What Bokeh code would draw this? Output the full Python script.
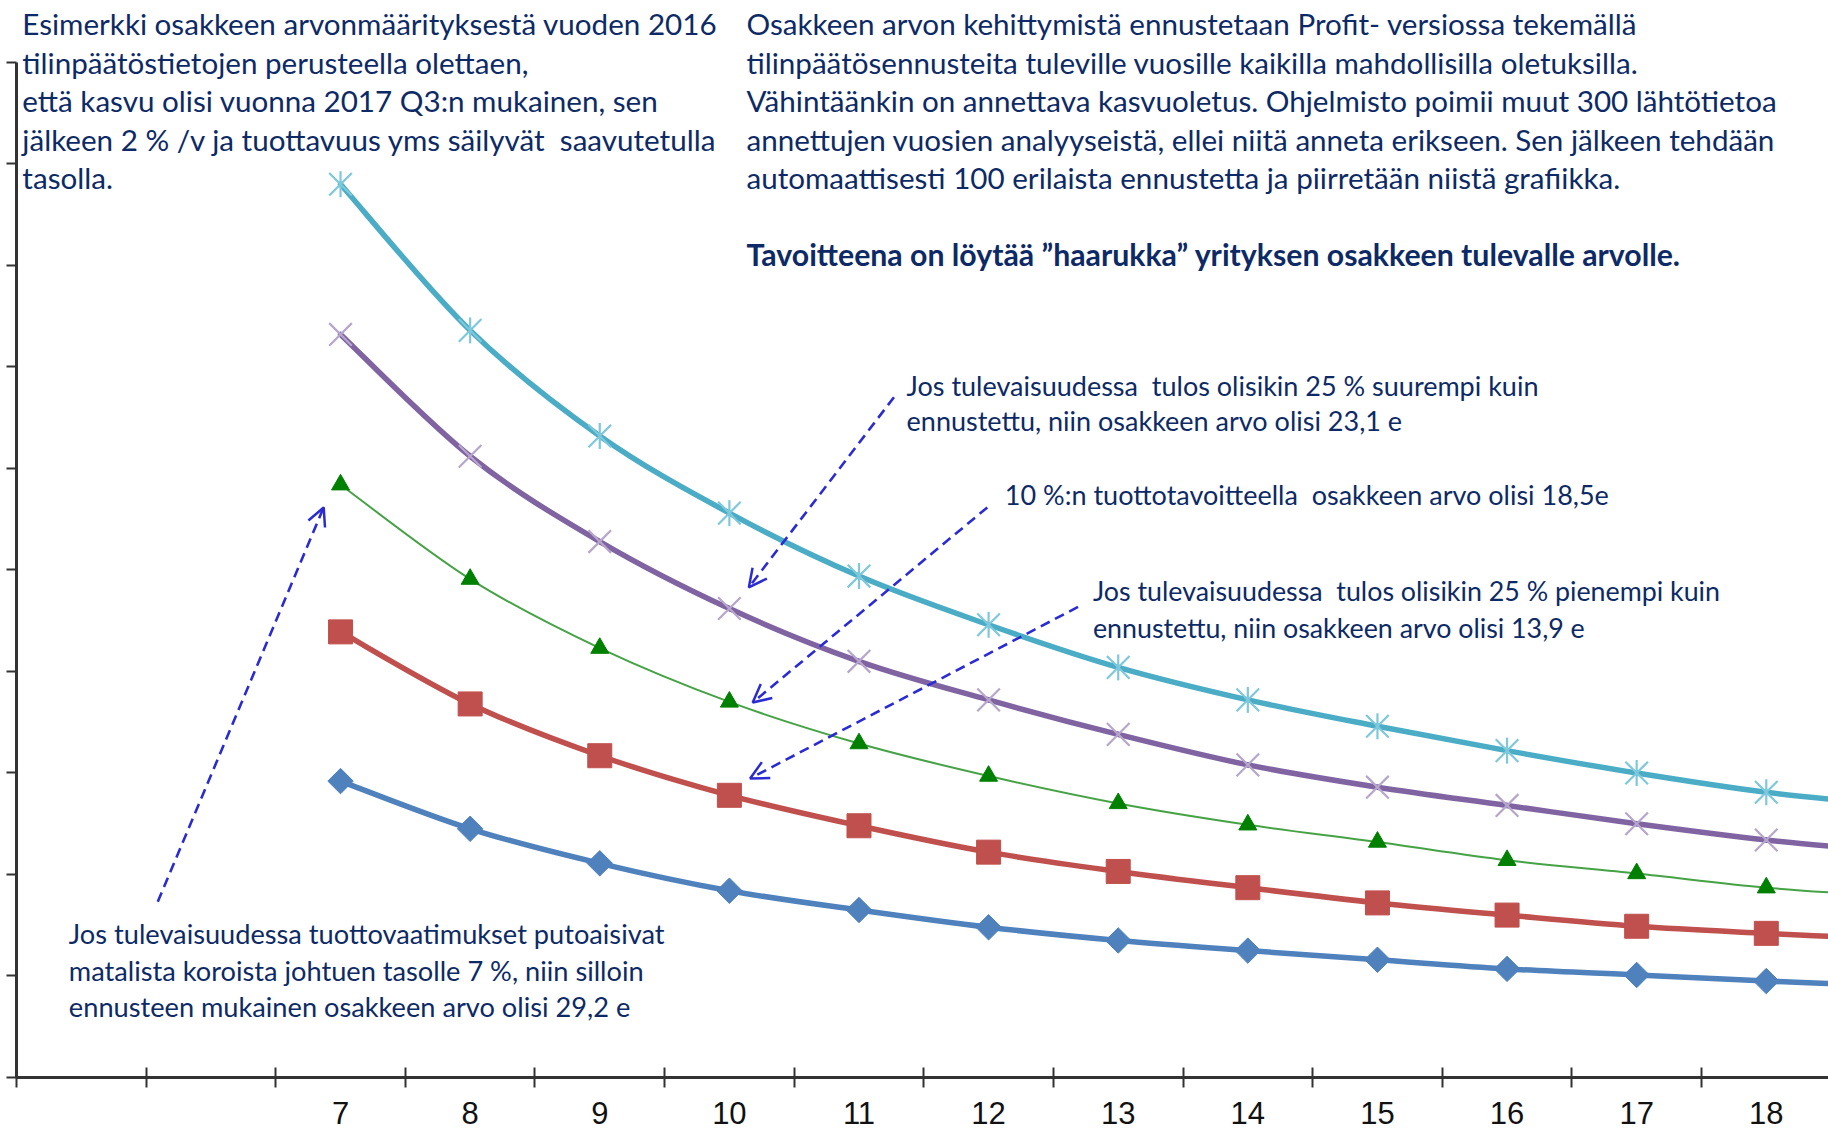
from bokeh.plotting import figure
from bokeh.models import Range1d, FixedTicker, Label, Arrow, OpenHead
from bokeh.embed import file_html
from bokeh.resources import INLINE
import math

# ---------------- data ----------------
x_cats = [7, 8, 9, 10, 11, 12, 13, 14, 15, 16, 17, 18, 19]
x_tick_labels = ["7", "8", "9", "10", "11", "12", "13", "14", "15", "16", "17", "18"]
y_ticks = [0, 5, 10, 15, 20, 25, 30, 35, 40, 45, 50]

cyan_vals = [44.0, 36.8, 31.6, 27.8, 24.7, 22.3, 20.2, 18.6, 17.3, 16.1, 15.0, 14.05, 13.4]
purple_vals = [36.6, 30.6, 26.4, 23.1, 20.5, 18.6, 16.9, 15.4, 14.3, 13.4, 12.5, 11.7, 11.1]
green_vals = [29.2, 24.55, 21.15, 18.5, 16.45, 14.85, 13.5, 12.45, 11.6, 10.7, 10.05, 9.35, 8.9]
red_vals = [21.95, 18.4, 15.85, 13.9, 12.4, 11.1, 10.15, 9.35, 8.6, 8.0, 7.45, 7.1, 6.8]
blue_vals = [14.6, 12.25, 10.55, 9.2, 8.25, 7.4, 6.75, 6.25, 5.8, 5.35, 5.05, 4.75, 4.5]

TXT = "#0d2a66"
ARROW = "#2b2bd2"
FONT = "Lato"

p = figure(width=1828, height=1130, output_backend="svg", toolbar_location=None,
           x_range=Range1d(4.5, 18.48), y_range=Range1d(0, 53.05),
           min_border_left=16, min_border_right=0, min_border_top=0, min_border_bottom=53)
p.outline_line_color = None
p.xgrid.visible = False
p.ygrid.visible = False
p.background_fill_color = "white"
p.border_fill_color = "white"

# x axis: labels at categories, tick marks between categories
xa = p.xaxis[0]
xa.ticker = FixedTicker(ticks=x_cats[:-1], minor_ticks=[c - 0.5 for c in range(5, 20)])
xa.major_label_overrides = {c: lab for c, lab in zip(x_cats[:-1], x_tick_labels)}
xa.major_tick_line_color = None
xa.major_tick_out = 10
xa.major_tick_in = 0
xa.minor_tick_in = 10
xa.minor_tick_out = 10
xa.minor_tick_line_color = "#333333"
xa.minor_tick_line_width = 2
xa.axis_line_color = "#333333"
xa.axis_line_width = 3
xa.major_label_text_font = "Liberation Sans"
xa.major_label_text_font_size = "31px"
xa.major_label_text_color = "#111111"
xa.major_label_standoff = 14

ya = p.yaxis[0]
ya.ticker = FixedTicker(ticks=y_ticks)
ya.bounds = (0, 50)
ya.major_label_overrides = {t: "" for t in y_ticks}
ya.major_label_standoff = 0
ya.major_tick_out = 10
ya.major_tick_in = 0
ya.major_tick_line_color = "#333333"
ya.major_tick_line_width = 2
ya.minor_tick_line_color = None
ya.axis_line_color = "#333333"
ya.axis_line_width = 3


# ---------------- series (smoothed lines like the original chart) ----------------
def smooth(xs, ys, color, width):
    n = len(xs)
    x0, y0, x1, y1, cx0, cy0, cx1, cy1 = [], [], [], [], [], [], [], []
    for i in range(n - 1):
        im1 = max(i - 1, 0)
        ip2 = min(i + 2, n - 1)
        x0.append(xs[i]); y0.append(ys[i])
        x1.append(xs[i + 1]); y1.append(ys[i + 1])
        cx0.append(xs[i] + (xs[i + 1] - xs[im1]) / 6.0)
        cy0.append(ys[i] + (ys[i + 1] - ys[im1]) / 6.0)
        cx1.append(xs[i + 1] - (xs[ip2] - xs[i]) / 6.0)
        cy1.append(ys[i + 1] - (ys[ip2] - ys[i]) / 6.0)
    p.bezier(x0=x0, y0=y0, x1=x1, y1=y1, cx0=cx0, cy0=cy0, cx1=cx1, cy1=cy1,
             line_color=color, line_width=width, line_cap="round")


smooth(x_cats, cyan_vals, "#4BACC6", 5.5)
smooth(x_cats, purple_vals, "#8064A2", 5.5)
smooth(x_cats, green_vals, "#45a245", 2)
smooth(x_cats, red_vals, "#C0504D", 5.5)
smooth(x_cats, blue_vals, "#4F81BD", 5.5)

p.scatter(x_cats, cyan_vals, marker="x", size=32, line_color="#7ec8dc", line_width=2.2)
p.scatter(x_cats, cyan_vals, marker="dash", angle=math.pi / 2, size=26, line_color="#7ec8dc", line_width=2.2)
p.scatter(x_cats, purple_vals, marker="x", size=32, line_color="#b7a6cc", line_width=2.2)
p.scatter(x_cats, green_vals, marker="triangle", size=18, fill_color="#008000", line_color="#008000")
p.scatter(x_cats, red_vals, marker="square", size=24, fill_color="#C0504D", line_color="#C0504D")
p.scatter(x_cats, blue_vals, marker="square", angle=math.pi / 4, size=18, fill_color="#4F81BD", line_color="#4F81BD")

# ---------------- arrows ----------------
arrows = [
    (5.59, 8.66, 6.87, 28.08),
    (11.27, 33.51, 10.15, 24.14),
    (11.99, 28.08, 10.18, 18.47),
    (12.69, 23.18, 10.16, 14.73),
]
for xs, ys, xe, ye in arrows:
    p.add_layout(Arrow(end=OpenHead(size=18, line_color=ARROW, line_width=2.5),
                       x_start=xs, y_start=ys, x_end=xe, y_end=ye,
                       line_color=ARROW, line_width=2.6, line_dash="10 6"))


# ---------------- texts ----------------
def add_lines(x, ys, lines, size, bold=False):
    for y, t in zip(ys, lines):
        p.add_layout(Label(x=x, y=y, text=t.replace("  ", " \u00a0"), text_font=FONT,
                           text_font_size=size, text_color=TXT,
                           text_baseline="alphabetic", text_align="left",
                           text_font_style="bold" if bold else "normal"))


add_lines(4.545, [51.9, 50.01, 48.11, 46.22, 44.33], [
    "Esimerkki osakkeen arvonmäärityksestä vuoden 2016",
    "tilinpäätöstietojen perusteella olettaen,",
    "että kasvu olisi vuonna 2017 Q3:n mukainen, sen",
    "jälkeen 2 % /v ja tuottavuus yms säilyvät  saavutetulla",
    "tasolla.",
], "29.6px")

add_lines(10.132, [51.9, 50.01, 48.11, 46.22, 44.33], [
    "Osakkeen arvon kehittymistä ennustetaan Profit- versiossa tekemällä",
    "tilinpäätösennusteita tuleville vuosille kaikilla mahdollisilla oletuksilla.",
    "Vähintäänkin on annettava kasvuoletus. Ohjelmisto poimii muut 300 lähtötietoa",
    "annettujen vuosien analyyseistä, ellei niitä anneta erikseen. Sen jälkeen tehdään",
    "automaattisesti 100 erilaista ennustetta ja piirretään niistä grafiikka.",
], "29.6px")
add_lines(10.132, [40.54], ["Tavoitteena on löytää ”haarukka” yrityksen osakkeen tulevalle arvolle."], "30.25px", bold=True)

add_lines(11.367, [34.1, 32.38], [
    "Jos tulevaisuudessa  tulos olisikin 25 % suurempi kuin",
    "ennustettu, niin osakkeen arvo olisi 23,1 e",
], "27px")
add_lines(12.125, [28.7], ["10 %:n tuottotavoitteella  osakkeen arvo olisi 18,5e"], "27px")
add_lines(12.805, [23.94, 22.16], [
    "Jos tulevaisuudessa  tulos olisikin 25 % pienempi kuin",
    "ennustettu, niin osakkeen arvo olisi 13,9 e",
], "26.8px")
add_lines(4.904, [7.11, 5.28, 3.49], [
    "Jos tulevaisuudessa tuottovaatimukset putoaisivat",
    "matalista koroista johtuen tasolle 7 %, niin silloin",
    "ennusteen mukainen osakkeen arvo olisi 29,2 e",
], "27.2px")

open("out.html", "w").write(file_html(p, INLINE))
